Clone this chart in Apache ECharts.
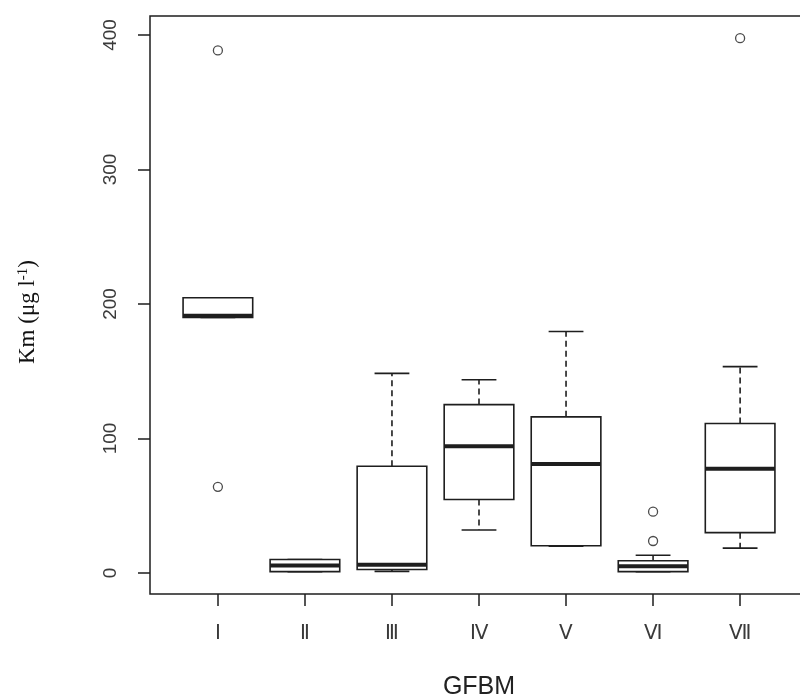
<!DOCTYPE html>
<html>
<head>
<meta charset="utf-8">
<script src="https://cdn.jsdelivr.net/npm/echarts@6/dist/echarts.min.js"></script>
<style>html,body{margin:0;padding:0;background:#fff;}#c{width:800px;height:700px;}</style>
</head>
<body>
<div id="c"></div>
<script>
// ---- data ----
const categories = ['Ⅰ', 'Ⅱ', 'Ⅲ', 'Ⅳ', 'Ⅴ', 'Ⅵ', 'Ⅶ'];
const positions = [1, 2, 3, 4, 5, 6, 7];
const mins    = [190,   1,   1.2, 32,    20,    1,   18.5];
const q1s     = [190,   1,   2.6, 54.7,  20.3,  1,   30];
const medians = [191.3, 5.6, 6.2, 94.3,  81.1,  5,   77.6];
const q3s     = [204.6, 10,  79.4, 125.2, 116.1, 9.1, 111.1];
const maxs    = [204.6, 10,  148.4, 143.7, 179.6, 13.2, 153.4];
const outlierGroup  = [1, 1, 6, 6, 7];
const outlierValues = [388.5, 64.1, 45.6, 23.8, 397.6];
const yTicks = [0, 100, 200, 300, 400];

// ---- build ----
const boxData = positions.map((p, i) => [p, mins[i], q1s[i], medians[i], q3s[i], maxs[i]]);
const outData = outlierGroup.map((g, i) => [g, outlierValues[i]]);
const ink = '#1e1e1e';

function renderBox(params, api) {
  const x = api.value(0);
  const vMin = api.value(1), vQ1 = api.value(2), vMed = api.value(3), vQ3 = api.value(4), vMax = api.value(5);
  const pMin = api.coord([x, vMin]), pQ1 = api.coord([x, vQ1]), pMed = api.coord([x, vMed]);
  const pQ3 = api.coord([x, vQ3]), pMax = api.coord([x, vMax]);
  const half = api.size([0.8, 0])[0] / 2;
  const cap = half / 2;
  const cx = pMed[0];
  const lineStyle = { stroke: ink, lineWidth: 1.6, fill: null };
  const dashStyle = { stroke: ink, lineWidth: 1.6, lineDash: [6, 4], fill: null };
  const children = [];
  children.push({ type: 'line', shape: { x1: cx, y1: pQ3[1], x2: cx, y2: pMax[1] }, style: dashStyle });
  children.push({ type: 'line', shape: { x1: cx, y1: pQ1[1], x2: cx, y2: pMin[1] }, style: dashStyle });
  children.push({ type: 'line', shape: { x1: cx - cap, y1: pMax[1], x2: cx + cap, y2: pMax[1] }, style: lineStyle });
  children.push({ type: 'line', shape: { x1: cx - cap, y1: pMin[1], x2: cx + cap, y2: pMin[1] }, style: lineStyle });
  children.push({ type: 'rect', shape: { x: cx - half, y: pQ3[1], width: half * 2, height: pQ1[1] - pQ3[1] },
    style: { stroke: ink, lineWidth: 1.6, fill: '#fff' } });
  children.push({ type: 'line', shape: { x1: cx - half, y1: pMed[1], x2: cx + half, y2: pMed[1] },
    style: { stroke: ink, lineWidth: 4 } });
  return { type: 'group', children: children };
}

const chart = echarts.init(document.getElementById('c'), null, { renderer: 'canvas' });
chart.setOption({
  backgroundColor: '#fff',
  animation: false,
  grid: { left: 150, top: 16, width: 658, height: 578, outerBoundsMode: 'none', containLabel: false,
    show: true, borderColor: ink, borderWidth: 1.5, backgroundColor: 'transparent' },
  xAxis: {
    type: 'value', min: 0.22, max: 7.78,
    splitLine: { show: false },
    axisLine: { show: false, onZero: false },
    axisTick: { show: true, length: 12, customValues: positions, lineStyle: { color: ink, width: 1.5 } },
    axisLabel: {
      customValues: positions, margin: 29,
      formatter: v => categories[Math.round(v) - 1] || '',
      fontFamily: 'Liberation Sans', fontSize: 20, color: '#3a3a3a'
    },
    name: 'GFBM', nameLocation: 'middle', nameGap: 81,
    nameTextStyle: { fontFamily: 'Liberation Sans', fontSize: 25, color: '#222' }
  },
  yAxis: {
    type: 'value', min: -15.6, max: 414.1,
    splitLine: { show: false },
    axisLine: { show: false, onZero: false },
    axisTick: { show: true, length: 12, customValues: yTicks, lineStyle: { color: ink, width: 1.5 } },
    axisLabel: {
      customValues: yTicks, rotate: 90, margin: 30,
      fontFamily: 'Liberation Sans', fontSize: 19, color: '#3a3a3a'
    },
    name: 'Km (μg l{sup|-1})', nameLocation: 'middle', nameRotate: 90, nameGap: 110,
    nameTextStyle: {
      fontFamily: 'Liberation Serif', fontSize: 23, color: '#111', padding: [0, 14, 0, 0],
      rich: { sup: { fontFamily: 'Liberation Serif', fontSize: 15, color: '#111', verticalAlign: 'top', padding: [0, 0, 9, 0] } }
    }
  },
  series: [
    {
      type: 'custom', renderItem: renderBox, data: boxData,
      encode: { x: 0, y: [1, 2, 3, 4, 5] }, clip: false, silent: true
    },
    {
      type: 'scatter', data: outData, symbol: 'circle', symbolSize: 9, silent: true,
      itemStyle: { color: '#fff', borderColor: ink, borderWidth: 1.3 }
    }
  ]
});
</script>
</body>
</html>
